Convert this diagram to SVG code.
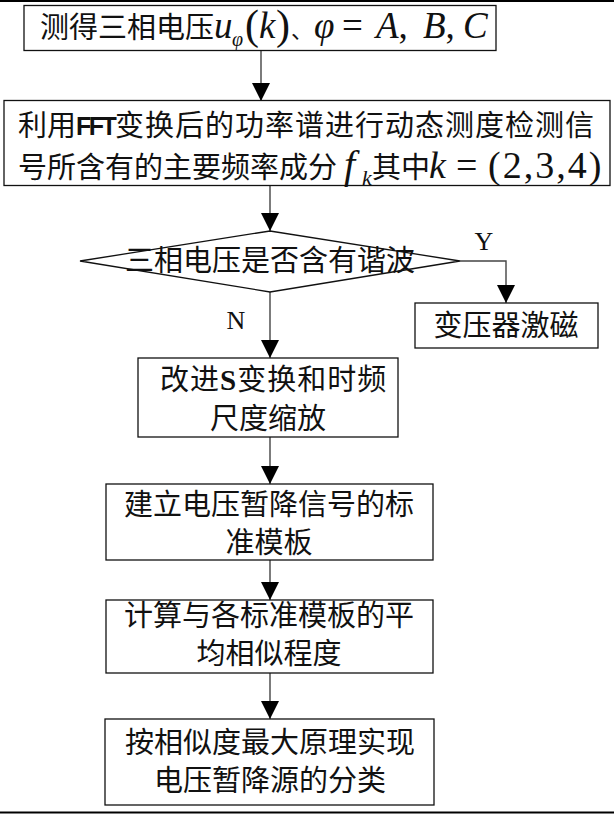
<svg xmlns="http://www.w3.org/2000/svg" width="614" height="814" viewBox="0 0 614 814">
<style>
.box{fill:#fff;stroke:#111;stroke-width:1.3}
.conn{fill:none;stroke:#444;stroke-width:1.4}
.cjk{font-family:"Noto Sans CJK SC","Noto Sans",sans-serif;font-size:29px;fill:#111}
.mi{font-family:"Liberation Serif",serif;font-style:italic;fill:#111}
.m{font-family:"Liberation Serif",serif;font-style:normal;fill:#111}
.lbl{font-family:"Liberation Serif",serif;font-size:26px;fill:#111;text-anchor:middle}
.c{text-anchor:middle}
</style>
<defs>
<marker id="arr" viewBox="0 0 18 18" markerWidth="18" markerHeight="18" refX="18" refY="9" orient="auto" markerUnits="userSpaceOnUse">
<path d="M0,0 L18,9 L0,18 z" fill="#000"/>
</marker>
</defs>
<rect width="614" height="814" fill="#fff"/>
<line x1="0" y1="1" x2="614" y2="1" stroke="#000" stroke-width="2"/>
<line x1="0" y1="812.5" x2="614" y2="812.5" stroke="#000" stroke-width="2"/>

<g id="connectors">
<path class="conn" d="M261,50 V101" marker-end="url(#arr)"/>
<path class="conn" d="M270,185 V231" marker-end="url(#arr)"/>
<path class="conn" d="M460,261 H506 V303" marker-end="url(#arr)"/>
<path class="conn" d="M270,292 V358" marker-end="url(#arr)"/>
<path class="conn" d="M270,437 V484" marker-end="url(#arr)"/>
<path class="conn" d="M270,560 V600" marker-end="url(#arr)"/>
<path class="conn" d="M270,673 V719" marker-end="url(#arr)"/>
<text class="lbl" x="484" y="250">Y</text>
<text class="lbl" x="236" y="329">N</text>
</g>

<g id="n1">
<rect class="box" x="24" y="5.5" width="472" height="45"/>
<text class="cjk" y="38" font-size="28"><tspan x="40">测得三相电压</tspan><tspan class="mi" x="214" font-size="37">u</tspan><tspan class="mi" x="232" y="46" font-size="20">φ</tspan><tspan class="m" x="245" y="39" font-size="42">(</tspan><tspan class="mi" x="259" y="38" font-size="37">k</tspan><tspan class="m" x="276" y="39" font-size="42">)</tspan><tspan x="291" y="38" font-size="22">、</tspan><tspan class="mi" x="314" font-size="37">φ</tspan><tspan class="m" x="342" font-size="37">=</tspan><tspan class="mi" x="376" font-size="37">A</tspan><tspan class="m" font-size="37">,</tspan><tspan class="mi" x="423" font-size="37">B</tspan><tspan class="m" font-size="37">,</tspan><tspan class="mi" x="463" font-size="37">C</tspan></text>
</g>

<g id="n2">
<rect class="box" x="4" y="100.5" width="606" height="85"/>
<text class="cjk" y="136"><tspan x="18">利用</tspan><tspan x="76" y="135" font-family="Liberation Sans,sans-serif" font-weight="bold" font-size="25" letter-spacing="-2.5">FFT</tspan><tspan x="115" y="136" letter-spacing="1">变换后的功率谱进行动态测度检测信</tspan><tspan x="18" y="178" letter-spacing="0">号所含有的主要频率成分</tspan><tspan class="mi" x="344" font-size="40">f</tspan><tspan class="mi" x="362" y="185" font-size="22">k</tspan><tspan x="372" y="178">其中</tspan><tspan class="mi" x="429" font-size="38">k</tspan><tspan class="m" x="456" font-size="38">=</tspan><tspan class="m" x="488" font-size="38" letter-spacing="2">(2,3,4)</tspan></text>
</g>

<g id="n3">
<polygon class="box" points="80,261 270,231 460,261 270,292"/>
<text class="cjk c" x="270" y="271">三相电压是否含有谐波</text>
</g>

<g id="n4">
<rect class="box" x="415" y="303" width="183" height="45"/>
<text class="cjk c" x="506" y="336">变压器激磁</text>
</g>

<g id="n5">
<rect class="box" x="138" y="358" width="260" height="79"/>
<text class="cjk" font-size="28"><tspan x="160" y="390" letter-spacing="1">改进<tspan class="m" font-weight="bold" font-size="29">S</tspan>变换和时频</tspan><tspan class="c" x="268" y="429" letter-spacing="0" text-anchor="middle">尺度缩放</tspan></text>
</g>

<g id="n6">
<rect class="box" x="106" y="484" width="327" height="76"/>
<text class="cjk c" x="269" y="515">建立电压暂降信号的标<tspan x="269" y="553">准模板</tspan></text>
</g>

<g id="n7">
<rect class="box" x="106" y="600" width="327" height="73"/>
<text class="cjk c" x="269" y="625.5">计算与各标准模板的平<tspan x="269" y="663.5">均相似程度</tspan></text>
</g>

<g id="n8">
<rect class="box" x="105" y="719" width="329" height="86"/>
<text class="cjk c" x="270" y="753">按相似度最大原理实现<tspan x="270" y="791">电压暂降源的分类</tspan></text>
</g>
</svg>
